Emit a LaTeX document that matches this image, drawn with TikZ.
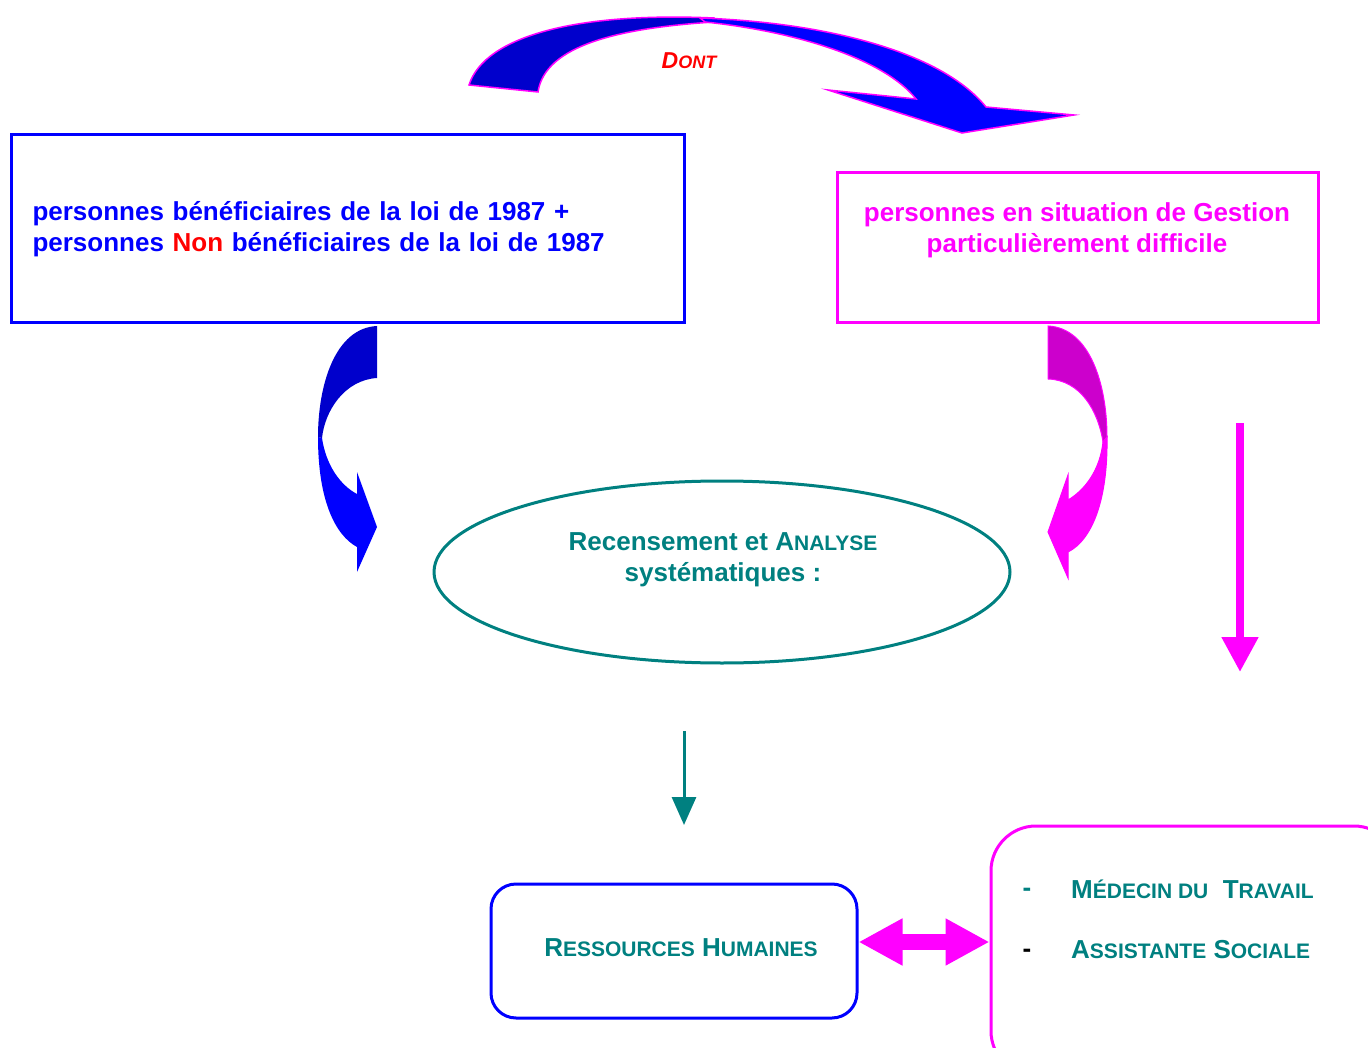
\documentclass[tikz,border=0pt]{standalone}
\usepackage{fontspec}
\setmainfont{Liberation Sans}
\usetikzlibrary{arrows.meta,shapes.geometric}

\definecolor{bleu}{RGB}{0,0,255}
\definecolor{bleufonce}{RGB}{0,0,204}
\definecolor{rose}{RGB}{255,0,255}
\definecolor{rosefonce}{RGB}{204,0,204}
\definecolor{canard}{RGB}{0,128,128}
\definecolor{rouge}{RGB}{255,0,0}

\newcommand{\petit}[1]{{\fontsize{21}{31}\selectfont #1}}
\newcommand{\petitit}[1]{{\fontsize{18}{31}\selectfont #1}}

\tikzset{
  texte/.style={font=\bfseries\fontsize{26}{31}\selectfont,inner sep=0pt},
  cadre/.style={draw=#1,line width=3pt},
}

\begin{document}
\begin{tikzpicture}[x=1pt,y=-1pt]
	\clip (0,0) rectangle (1368,1048);
	% haut
	\node[cadre=bleu,minimum width=673pt,minimum height=188pt,text width=630pt,inner xsep=21.5pt,align=left,texte,text=bleu](loi)at(347.5,229){personnes bénéficiaires de la loi de 1987 +\\personnes \textcolor{rouge}{Non} bénéficiaires de la loi de 1987};
	\node[cadre=rose,minimum width=481pt,minimum height=150pt](gestion)at(1077.5,248){};
	\node[texte,text=rose,align=center](gestiontxt)at(1077,230){personnes en situation de Gestion\\particulièrement difficile};
	% fleche DONT
	\filldraw[fill=bleufonce,draw=rose,line width=1.5pt](469,85)..controls(485,35)and(580,12)..(714,18)--(714,22)..controls(620,28)and(545,45)..(538,92)--cycle;
	\filldraw[fill=bleu,draw=rose,line width=1.5pt](700,18)..controls(820,22)and(940,50)..(986,107)--(1074,115)--(962,133)--(828,90)--(916,99)..controls(885,60)and(800,32)..(705,22)--cycle;
	\node[texte,font=\bfseries\itshape\fontsize{23}{31}\selectfont,text=rouge](dont)at(689,61){D\petitit{ONT}};
	% fleches courbes
	\fill[bleufonce](377,326)..controls(335,328)and(318,385)..(318,437)--(322,438)..controls(325,410)and(345,380)..(377,378)--cycle;
	\fill[bleu](318,437)..controls(318,500)and(335,535)..(357,547)--(357,572)--(377,527)--(357,472)--(357,494)..controls(340,485)and(326,465)..(322,438)--cycle;
	\filldraw[fill=rosefonce,draw=rose,line width=1pt](1048,326)..controls(1090,328)and(1107,385)..(1107,437)--(1103,442)..controls(1098,410)and(1080,380)..(1048,379)--cycle;
	\filldraw[fill=rose,draw=rose,line width=1pt](1107,437)..controls(1108,500)and(1092,540)..(1068,552)--(1068,578)--(1048,532)--(1068,475)--(1068,500)..controls(1085,490)and(1100,470)..(1103,442)--cycle;
	% milieu
	\node[ellipse,cadre=canard,minimum width=576pt,minimum height=182pt,inner sep=0pt](recensement)at(722,572){};
	\node[texte,text=canard,align=center](recensementtxt)at(723,560){Recensement et A\petit{NALYSE}\\systématiques :};
	\coordinate(c1)at(684,731);
	\coordinate(c2)at(684,825);
	\draw[canard,line width=3pt,-{Triangle[width=24pt,length=28pt]}](c1)--(c2);
	\coordinate(c3)at(1240,423);
	\coordinate(c4)at(1240,672);
	\draw[rose,line width=8pt,-{Triangle[width=35pt,length=35pt]}](c3)--(c4);
	% bas
	\node[cadre=bleu,rounded corners=25pt,minimum width=366pt,minimum height=134pt](rh)at(674,951){};
	\node[texte,text=canard](rhtxt)at(681,948){R\petit{ESSOURCES} H\petit{UMAINES}};
	\node[cadre=rose,rounded corners=45pt,minimum width=408pt,minimum height=250pt](acteurs)at(1195,951){};
	\node[texte,text=canard](tiret1)at(1027,892){-};
	\node[texte](tiret2)at(1027,953){-};
	\node[texte,text=canard,anchor=west](medecin)at(1071,889){M\petit{ÉDECIN DU}\ \ T\petit{RAVAIL}};
	\node[texte,text=canard,anchor=west](assistante)at(1071,950){A\petit{SSISTANTE} S\petit{OCIALE}};
	\draw[rose,line width=16pt,{Triangle[width=44pt,length=44pt]}-{Triangle[width=44pt,length=44pt]}]([yshift=9pt]rh.east)--([yshift=9pt]acteurs.west);
\end{tikzpicture}
\end{document}
